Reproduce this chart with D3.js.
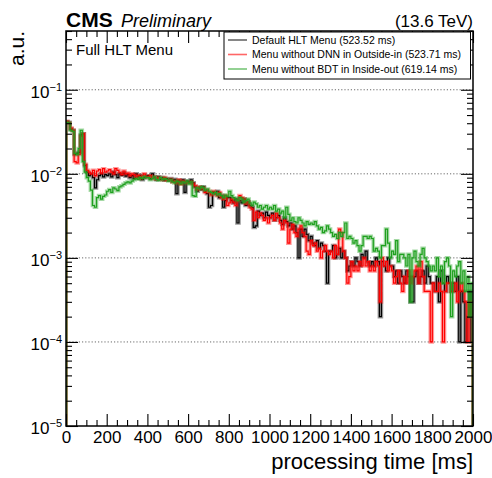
<!DOCTYPE html>
<html>
<head>
<meta charset="utf-8">
<script src="https://cdn.jsdelivr.net/npm/d3@7"></script>
<style>
  body { margin: 0; background: #fff; }
  text { font-family: "Liberation Sans", Arial, Helvetica, sans-serif; fill: #000; }
</style>
</head>
<body>
<svg id="chart" width="492" height="478"></svg>
<script>
// histogram bins: 10 ms wide, 0 - 2000 ms
const binWidth = 10;
const xTickValues = [0, 200, 400, 600, 800, 1000, 1200, 1400, 1600, 1800, 2000];
const yDecades = [1e-5, 1e-4, 1e-3, 1e-2, 1e-1];

const legendLabels = [
  "Default HLT Menu (523.52 ms)",
  "Menu without DNN in Outside-in (523.71 ms)",
  "Menu without BDT in Inside-out (619.14 ms)"
];
const seriesColors = ["#000000", "#ff0000", "#1ea01e"];

// bin contents in units of 1e-4 (a.u.)
const UNIT = 1e-4;
const defaultMenu = [
  420, 410, 340, 330, 170, 175, 180, 290, 300, 125,
  105, 95, 100, 90, 68, 85, 95, 100, 92, 98,
  95, 100, 92, 105, 98, 90, 100, 96, 102, 94,
  98, 90, 95, 88, 100, 92, 96, 85, 90, 94,
  95, 88, 100, 90, 85, 92, 86, 90, 84, 88,
  85, 88, 82, 86, 58, 84, 80, 85, 60, 82,
  80, 85, 78, 70, 62, 68, 65, 70, 62, 58,
  40, 42, 60, 58, 62, 52, 55, 40, 48, 52,
  52, 48, 45, 50, 26, 48, 45, 50, 42, 46,
  42, 40, 23, 24, 36, 32, 34, 30, 35, 32,
  30, 34, 28, 30, 32, 28, 25, 30, 27, 24,
  26, 22, 24, 20, 10, 22, 18, 22, 19, 16,
  18, 15, 14, 16, 13, 15, 14, 12, 5, 12,
  12, 14, 10, 11, 13, 10, 12, 10, 7, 8,
  9, 8, 10, 9, 8, 11, 10, 12, 9, 8,
  9, 8, 10, 9, 2, 9, 8, 7, 10, 8,
  8, 6, 7, 5, 7, 6, 5, 7, 6, 3,
  3, 6, 7, 5, 6, 7, 5, 8, 6, 5,
  5, 4, 6, 3, 7, 5, 4, 6, 5, 4,
  5, 4, 6, 1, 4, 3, 1, 2, 4, 1
];
const withoutDNN = [
  420, 400, 350, 330, 140, 135, 170, 280, 300, 130,
  110, 105, 100, 110, 95, 108, 112, 102, 115, 105,
  108, 112, 105, 100, 115, 110, 104, 98, 108, 100,
  102, 95, 100, 98, 92, 96, 88, 95, 100, 92,
  92, 95, 88, 92, 86, 90, 88, 85, 90, 84,
  84, 86, 80, 82, 78, 85, 75, 82, 80, 78,
  78, 80, 76, 72, 65, 70, 66, 68, 60, 64,
  60, 56, 62, 58, 55, 60, 52, 50, 55, 42,
  45, 50, 46, 42, 48, 55, 52, 50, 44, 46,
  40, 38, 28, 35, 30, 34, 32, 28, 30, 26,
  30, 32, 28, 34, 30, 26, 22, 28, 26, 15,
  22, 25, 20, 18, 22, 24, 20, 18, 12, 11,
  16, 14, 15, 12, 13, 10, 12, 14, 12, 11,
  12, 10, 14, 11, 22, 20, 12, 10, 5, 6,
  9, 7, 8, 7, 9, 8, 10, 8, 9, 7,
  8, 7, 9, 8, 3, 10, 8, 9, 7, 8,
  7, 5, 6, 7, 5, 4, 6, 5, 7, 5,
  6, 7, 8, 5, 9, 6, 4, 4, 4, 1,
  5, 4, 4, 5, 4, 1, 4, 5, 5, 4,
  4, 5, 3, 4, 5, 4, 3, 1, 3, 3
];
const withoutBDT = [
  410, 400, 330, 320, 175, 170, 200, 330, 140, 105,
  90, 82, 64, 42, 40, 52, 55, 50, 54, 56,
  62, 65, 60, 68, 66, 63, 70, 72, 75, 78,
  80, 78, 82, 85, 88, 86, 90, 88, 92, 90,
  90, 85, 88, 92, 86, 84, 90, 85, 88, 86,
  82, 85, 80, 78, 82, 80, 76, 80, 78, 82,
  76, 80, 55, 54, 68, 66, 70, 68, 64, 66,
  62, 60, 58, 60, 56, 58, 55, 52, 56, 54,
  62, 55, 52, 50, 48, 52, 50, 46, 48, 50,
  45, 42, 46, 44, 40, 42, 38, 40, 42, 38,
  40, 38, 42, 36, 38, 34, 36, 30, 40, 33,
  28, 30, 27, 26, 30, 28, 26, 24, 27, 25,
  26, 25, 27, 24, 22, 23, 20, 21, 24, 22,
  20, 18, 19, 17, 20, 18, 20, 26, 17, 18,
  17, 15, 16, 14, 12, 14, 18, 18, 17, 18,
  17, 12, 13, 12, 10, 14, 14, 22, 15, 10,
  12, 11, 16, 9, 11, 11, 10, 8, 11, 3,
  10, 12, 9, 8, 11, 13, 10, 9, 8, 7,
  8, 7, 10, 6, 8, 5, 9, 10, 8, 2,
  7, 6, 8, 9, 5, 7, 4, 6, 2, 5
];
const allSeries = [defaultMenu, withoutDNN, withoutBDT];

const svg = d3.select("#chart");
const frameL = 66, frameR = 473, frameT = 31, frameB = 426;

const x = d3.scaleLinear().domain([0, 2000]).range([frameL, frameR]);
const y = d3.scaleLog().domain([1e-5, 0.5]).range([frameB, frameT]);

svg.append("defs").append("clipPath").attr("id", "frameClip")
  .append("rect").attr("x", frameL).attr("y", frameT)
  .attr("width", frameR - frameL).attr("height", frameB - frameT);

// dotted grid at the decades
svg.append("g").selectAll("line")
  .data(yDecades.filter(d => d > 1e-5))
  .enter().append("line")
  .attr("x1", frameL).attr("x2", frameR)
  .attr("y1", d => y(d)).attr("y2", d => y(d))
  .attr("stroke", "#444").attr("stroke-width", 0.8)
  .attr("stroke-dasharray", "1.2,2");

// histogram outlines
const step = d3.line()
  .x(d => x(d[0]))
  .y(d => y(d[1]))
  .curve(d3.curveStepAfter);

function histPoints(vals) {
  const pts = [[0, 1e-5]];
  vals.forEach((v, i) => pts.push([i * binWidth, v * UNIT]));
  const end = vals.length * binWidth;
  pts.push([end, vals[vals.length - 1] * UNIT]);
  pts.push([end, 1e-5]);
  return pts;
}

const plot = svg.append("g").attr("clip-path", "url(#frameClip)");
allSeries.forEach((vals, k) => {
  const d = step(histPoints(vals));
  plot.append("path").attr("d", d)
    .attr("fill", "none").attr("stroke", seriesColors[k])
    .attr("stroke-width", 3.6).attr("stroke-opacity", 0.4);
  plot.append("path").attr("d", d)
    .attr("fill", "none").attr("stroke", seriesColors[k])
    .attr("stroke-width", 1.2);
});

// axes: ticks pointing inwards on all four sides
const minorX = d3.range(0, 2001, 50).filter(v => v % 200 !== 0);
const minorY = [];
yDecades.forEach(d => {
  for (let k = 2; k <= 9; k++) if (k * d <= 0.5) minorY.push(k * d);
});

function styleAxis(g) {
  g.select(".domain").remove();
  g.selectAll(".tick line").attr("stroke", "#000").attr("stroke-width", 1.1);
}

svg.append("g").attr("transform", `translate(0,${frameB})`)
  .call(d3.axisBottom(x).tickValues(xTickValues).tickSize(-12).tickSizeOuter(0)
    .tickPadding(5).tickFormat(d3.format("d")))
  .call(styleAxis)
  .call(g => g.selectAll("text").attr("font-size", 17)
    .style("font-family", "'Liberation Sans', Arial, sans-serif").attr("fill", "#000"));
svg.append("g").attr("transform", `translate(0,${frameB})`)
  .call(d3.axisBottom(x).tickValues(minorX).tickSize(-6).tickSizeOuter(0).tickFormat(""))
  .call(styleAxis);
svg.append("g").attr("transform", `translate(0,${frameT})`)
  .call(d3.axisTop(x).tickValues(xTickValues).tickSize(-12).tickSizeOuter(0).tickFormat(""))
  .call(styleAxis);
svg.append("g").attr("transform", `translate(0,${frameT})`)
  .call(d3.axisTop(x).tickValues(minorX).tickSize(-6).tickSizeOuter(0).tickFormat(""))
  .call(styleAxis);

svg.append("g").attr("transform", `translate(${frameL},0)`)
  .call(d3.axisLeft(y).tickValues(yDecades).tickSize(-12).tickSizeOuter(0).tickFormat(""))
  .call(styleAxis);
svg.append("g").attr("transform", `translate(${frameL},0)`)
  .call(d3.axisLeft(y).tickValues(minorY).tickSize(-6).tickSizeOuter(0).tickFormat(""))
  .call(styleAxis);
svg.append("g").attr("transform", `translate(${frameR},0)`)
  .call(d3.axisRight(y).tickValues(yDecades).tickSize(-12).tickSizeOuter(0).tickFormat(""))
  .call(styleAxis);
svg.append("g").attr("transform", `translate(${frameR},0)`)
  .call(d3.axisRight(y).tickValues(minorY).tickSize(-6).tickSizeOuter(0).tickFormat(""))
  .call(styleAxis);

// y tick labels 10^n
yDecades.forEach(d => {
  const t = svg.append("text")
    .attr("x", frameL - 4).attr("y", y(d) + 8)
    .attr("text-anchor", "end").attr("font-size", 17);
  t.append("tspan").text("10");
  t.append("tspan").attr("dy", -7).attr("font-size", 11)
    .text("\u2212" + Math.round(-Math.log10(d)));
});

// frame
svg.append("rect").attr("x", frameL).attr("y", frameT)
  .attr("width", frameR - frameL).attr("height", frameB - frameT)
  .attr("fill", "none").attr("stroke", "#000").attr("stroke-width", 1.5);

// titles
svg.append("text").attr("x", frameR).attr("y", 469)
  .attr("text-anchor", "end").attr("font-size", 22)
  .text("processing time [ms]");
svg.append("text").attr("transform", `translate(24,${frameT}) rotate(-90)`)
  .attr("text-anchor", "end").attr("font-size", 21)
  .text("a.u.");

svg.append("text").attr("x", frameL).attr("y", 26.5)
  .attr("font-size", 21).attr("font-weight", "bold").text("CMS");
svg.append("text").attr("x", 121).attr("y", 26.5)
  .attr("font-size", 18).attr("font-style", "italic").text("Preliminary");
svg.append("text").attr("x", frameR).attr("y", 26.5)
  .attr("text-anchor", "end").attr("font-size", 17).text("(13.6 TeV)");

svg.append("text").attr("x", 76).attr("y", 55)
  .attr("font-size", 15).text("Full HLT Menu");

// legend
const legend = svg.append("g");
legend.append("rect").attr("x", 224).attr("y", 32)
  .attr("width", 246.5).attr("height", 47)
  .attr("fill", "#fff").attr("stroke", "#000").attr("stroke-width", 1);
legendLabels.forEach((label, k) => {
  const cy = 40 + k * 14.5;
  legend.append("line").attr("x1", 228).attr("x2", 247)
    .attr("y1", cy).attr("y2", cy)
    .attr("stroke", seriesColors[k]).attr("stroke-opacity", 0.6).attr("stroke-width", 1.6);
  legend.append("text").attr("x", 252).attr("y", cy + 3.8)
    .attr("font-size", 10.5).text(label);
});
</script>
</body>
</html>
